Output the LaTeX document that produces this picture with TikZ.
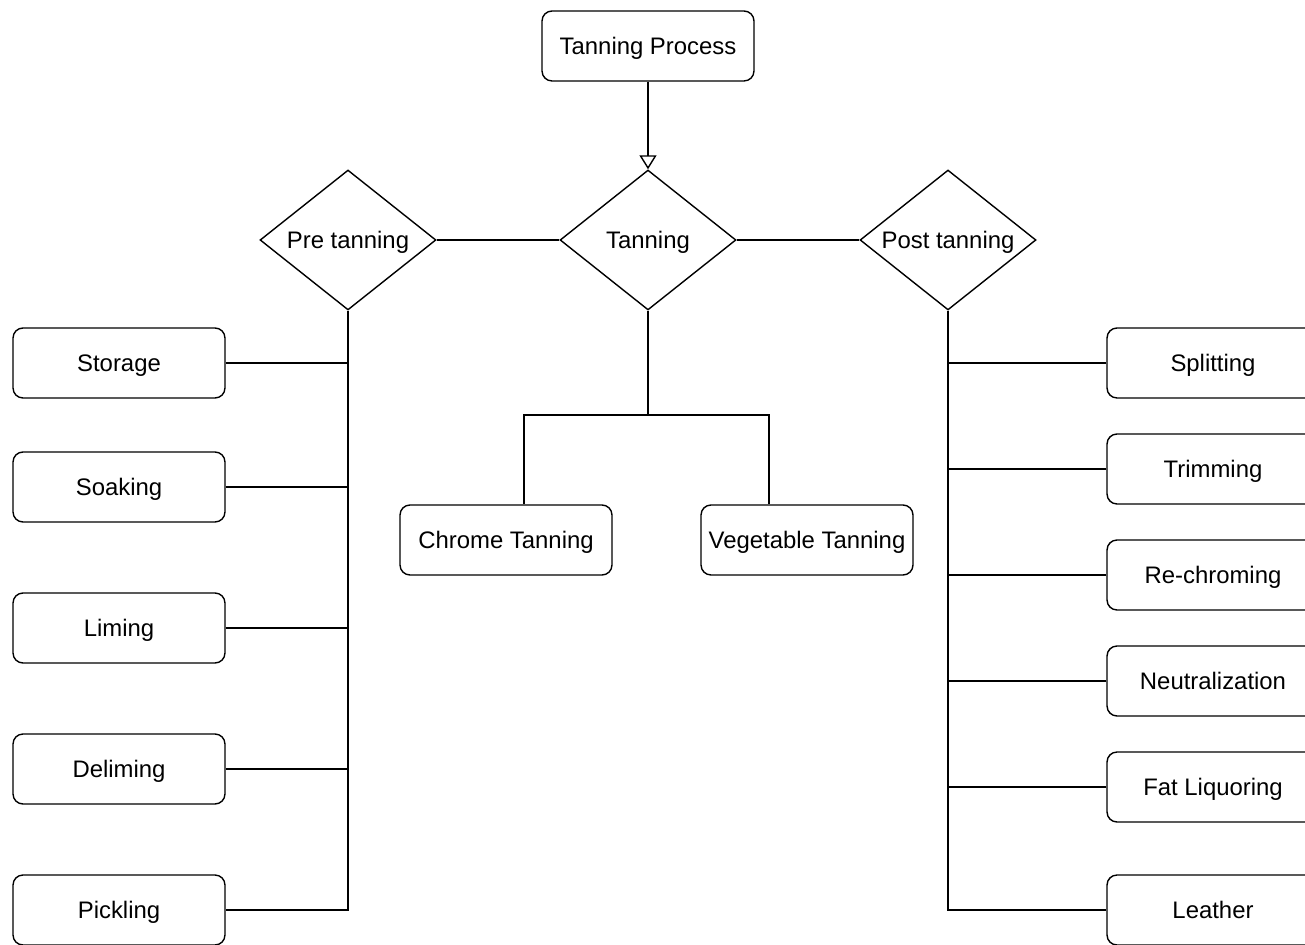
\documentclass[tikz,border=0pt]{standalone}
\usepackage{fontspec}
\setmainfont{Liberation Sans}
\usetikzlibrary{shapes.geometric,arrows.meta}

\begin{document}
\begin{tikzpicture}[x=0.02cm, y=-0.02cm, line width=0.8pt,
    font=\fontsize{13.6}{16}\selectfont,
    stage/.style={draw, rounded corners=0.2cm, minimum width=4.24cm, minimum height=1.4cm, inner sep=0pt, text height=11.5pt, text depth=1.5pt},
    phase/.style={draw, diamond, minimum width=3.52cm, minimum height=2.8cm, inner xsep=-0.6cm, inner ysep=0pt, text height=11.5pt, text depth=1.5pt}]
        \useasboundingbox (0,0) rectangle (1305,945);

        \node[stage] (proc) at (648,46) {Tanning Process};
        \node[phase] (pre) at (348,240) {Pre tanning};
        \node[phase] (tan) at (648,240) {Tanning};
        \node[phase] (post) at (948,240) {Post tanning};
        \draw[-{Triangle[open, width=0.34cm, length=0.28cm]}] (proc) -- (tan);
        \draw (pre) -- (tan) -- (post);

        % pre tanning
        \def\x{119}
        \node[stage] (stor) at (\x,363) {Storage};
        \node[stage] (soak) at (\x,487) {Soaking};
        \node[stage] (lime) at (\x,628) {Liming};
        \node[stage] (delime) at (\x,769) {Deliming};
        \node[stage] (pickl) at (\x,910) {Pickling};
        \draw (pre) -- (pre |- pickl) -- (pickl);
        \draw (stor) -- (stor -| pre);
        \draw (soak) -- (soak -| pre);
        \draw (lime) -- (lime -| pre);
        \draw (delime) -- (delime -| pre);

        % tanning
        \node[stage] (chrome) at (506,540) {Chrome Tanning};
        \node[stage] (veg) at (807,540) {Vegetable Tanning};
        \coordinate (fork) at (648,415);
        \coordinate (forkl) at (524,415);
        \coordinate (forkr) at (769,415);
        \draw (tan) -- (fork);
        \draw (forkl |- chrome.north) -- (forkl) -- (forkr) -- (forkr |- veg.north);

        % post tanning
        \def\x{1213}
        \node[stage] (splt) at (\x,363) {Splitting};
        \node[stage] (trim) at (\x,469) {Trimming};
        \node[stage] (rechr) at (\x,575) {Re-chroming};
        \node[stage] (neut) at (\x,681) {Neutralization};
        \node[stage] (fatl) at (\x,787) {Fat Liquoring};
        \node[stage] (leath) at (\x,910) {Leather};
        \draw (post) -- (post |- leath) -- (leath);
        \draw (splt) -- (splt -| post);
        \draw (trim) -- (trim -| post);
        \draw (rechr) -- (rechr -| post);
        \draw (neut) -- (neut -| post);
        \draw (fatl) -- (fatl -| post);
    \end{tikzpicture}
\end{document}
